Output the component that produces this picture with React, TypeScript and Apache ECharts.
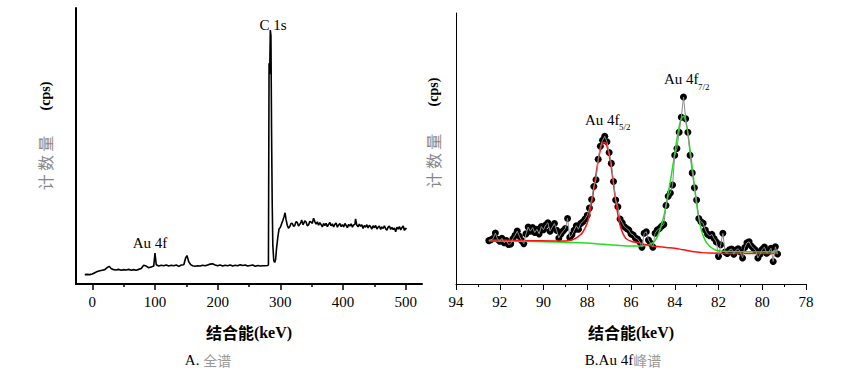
import React, { useEffect, useRef } from 'react';
import * as echarts from 'echarts';

// ---------- Data ----------
// A. survey spectrum: [binding energy, counts (relative)]
const surveySpectrum: [number, number][] = [
  [-12, 3.4], [-8, 3.5], [-4, 3.4], [0, 3.6], [4, 4.1], [8, 4.5], [12, 4.8], [16, 5.0], [20, 5.2],
  [24, 6.0], [27, 6.4], [30, 5.6], [34, 5.2], [38, 5.1], [42, 5.3], [46, 5.0], [50, 5.2], [54, 5.1],
  [58, 5.3], [62, 5.0], [66, 5.2], [70, 5.0], [74, 5.3], [78, 5.6], [82, 6.8], [86, 6.5], [90, 5.9],
  [94, 6.2], [98, 6.5], [100, 11.2], [102, 7.0], [106, 6.5], [110, 6.8], [114, 6.6], [118, 6.9],
  [122, 6.5], [126, 6.8], [130, 6.6], [134, 6.9], [138, 6.4], [142, 6.9], [146, 7.0], [149, 9.5],
  [151, 10.3], [154, 8.0], [157, 7.0], [160, 6.6], [164, 6.4], [168, 6.6], [172, 6.5], [176, 6.8],
  [180, 6.6], [184, 6.9], [188, 7.2], [192, 7.3], [196, 6.9], [200, 6.6], [204, 6.9], [208, 6.5],
  [212, 6.8], [216, 6.6], [220, 6.9], [224, 6.5], [228, 6.8], [232, 6.6], [236, 7.0], [240, 6.7],
  [244, 6.9], [248, 6.5], [252, 6.7], [256, 6.9], [260, 6.4], [264, 6.7], [268, 6.5], [272, 6.6],
  [276, 6.6], [280, 6.7], [281, 7.0], [282, 80], [283, 76], [284, 92], [285, 90], [286, 55],
  [287, 30], [288, 14], [289.5, 8.5], [291, 7.8], [292.5, 9], [294, 13], [296, 17], [298, 20],
  [300, 20.5], [302, 21.8], [304, 23], [306, 24.5], [307.5, 25.8], [309, 23.5],
  [311, 21.3], [313, 20.2], [315, 20.8], [317, 21.9], [319, 22.0], [321, 20.9], [323, 21.2],
  [325, 22.6], [327, 22.3], [329, 21.0], [331, 21.6], [333, 22.4], [334, 23.2], [336, 21.5],
  [337, 21.8], [339, 22.9], [341, 22.5], [343, 21.1], [345, 21.4], [347, 22.7], [349, 22.4],
  [351, 22.0], [353, 23.8], [355, 22.6], [357, 21.7], [359, 22.5], [361, 21.3], [363, 22.2],
  [365, 21.5], [367, 20.7], [369, 21.9], [371, 21.2], [373, 22.0], [375, 20.8], [377, 21.6],
  [379, 22.3], [381, 21.1], [383, 21.8], [385, 20.7], [387, 21.6], [389, 22.1], [391, 20.6],
  [393, 21.4], [395, 21.9], [397, 20.8], [399, 21.5], [401, 20.7], [403, 21.9], [405, 21.2],
  [407, 20.4], [409, 21.6], [411, 21.0], [413, 21.8], [415, 20.6], [417, 21.4], [419, 21.6],
  [420, 23.6], [422, 21.3], [424, 20.7], [426, 21.7], [428, 20.9], [430, 21.5], [432, 20.1],
  [434, 21.2], [436, 20.6], [438, 21.5], [440, 20.3], [442, 21.3], [444, 20.8], [446, 19.9],
  [448, 21.1], [450, 20.4], [452, 21.2], [454, 19.9], [456, 20.6], [458, 21.0], [460, 19.8],
  [462, 20.7], [464, 20.1], [466, 21.1], [468, 20.0], [470, 19.5], [472, 20.6], [474, 21.0],
  [476, 19.8], [478, 20.5], [480, 19.7], [482, 20.3], [484, 18.9], [486, 20.6], [488, 19.9],
  [490, 20.8], [492, 19.6], [494, 20.4], [496, 21.0], [498, 19.4], [500, 20.2], [501, 19.8],
];

// B. Au 4f measured points
const au4fPoints: [number, number][] = [
  [92.5, 16.0], [92.4, 16.3], [92.3, 16.8], [92.2, 18.8], [92.1, 16.5], [92.0, 15.8], [91.9, 16.9],
  [91.8, 15.2], [91.7, 16.0], [91.6, 14.6], [91.5, 14.8], [91.4, 16.7], [91.3, 18.0], [91.2, 19.5],
  [91.1, 17.6], [91.0, 16.0], [90.9, 14.9], [90.8, 18.5], [90.7, 21.0], [90.6, 19.5], [90.5, 20.8],
  [90.4, 19.0], [90.3, 20.2], [90.2, 18.5], [90.1, 21.2], [90.0, 20.0], [89.9, 21.8], [89.8, 22.6],
  [89.7, 19.5], [89.6, 21.0], [89.5, 22.3], [89.4, 19.8], [89.3, 17.0], [89.2, 18.5], [89.1, 19.6],
  [89.0, 20.5], [88.9, 24.2], [88.8, 17.2], [88.7, 18.2], [88.6, 19.8], [88.5, 21.5], [88.4, 20.2],
  [88.3, 22.3], [88.2, 23.0], [88.1, 24.0], [88.0, 25.4], [87.9, 28.0], [87.8, 31.2], [87.7, 36.0],
  [87.6, 38.5], [87.5, 46.0], [87.4, 50.8], [87.3, 53.0], [87.2, 54.5], [87.1, 52.5], [87.0, 48.5],
  [86.9, 44.5], [86.8, 37.8], [86.7, 31.0], [86.6, 28.5], [86.5, 24.0], [86.4, 22.6], [86.3, 21.1],
  [86.2, 20.5], [86.1, 19.9], [86.0, 18.5], [85.9, 18.1], [85.8, 17.0], [85.7, 16.6], [85.6, 15.5],
  [85.5, 13.6], [85.4, 18.7], [85.3, 19.3], [85.2, 16.2], [85.1, 15.0], [85.0, 13.6], [84.9, 18.7],
  [84.8, 19.9], [84.7, 20.5], [84.6, 21.3], [84.5, 22.0], [84.4, 29.0], [84.3, 32.4], [84.2, 33.6],
  [84.1, 36.5], [84.0, 47.5], [83.9, 50.0], [83.8, 56.0], [83.7, 61.5], [83.6, 69.0], [83.5, 61.0],
  [83.4, 56.0], [83.3, 47.5], [83.2, 41.0], [83.1, 35.5], [83.0, 31.0], [82.9, 24.2], [82.8, 23.0],
  [82.7, 22.4], [82.6, 19.9], [82.5, 18.4], [82.4, 17.8], [82.3, 18.3], [82.2, 16.8], [82.1, 15.5],
  [82.0, 10.2], [81.9, 14.5], [81.8, 18.7], [81.7, 11.8], [81.6, 11.3], [81.5, 12.6], [81.4, 12.9],
  [81.3, 11.0], [81.2, 12.5], [81.1, 13.0], [81.0, 11.8], [80.9, 9.6], [80.8, 13.5], [80.7, 15.2],
  [80.6, 15.6], [80.5, 14.0], [80.4, 13.2], [80.3, 12.4], [80.2, 9.6], [80.1, 11.0], [80.0, 12.8],
  [79.9, 13.6], [79.8, 11.4], [79.7, 12.0], [79.6, 13.2], [79.5, 8.3], [79.4, 13.7], [79.3, 11.1],
];

// fitted Au 4f5/2 component (red) with background
const fit52: [number, number][] = [
  [92.5, 16.2], [91.5, 16.1], [90.5, 16.0], [89.5, 15.9], [89.0, 15.9], [88.8, 16.1], [88.6, 16.6],
  [88.4, 17.6], [88.2, 19.2], [88.0, 22.5], [87.9, 25.8], [87.8, 29.8], [87.7, 35.0], [87.6, 40.5],
  [87.5, 45.5], [87.4, 49.4], [87.3, 51.8], [87.2, 52.2], [87.1, 50.8], [87.0, 47.6], [86.9, 42.8],
  [86.8, 36.8], [86.7, 30.8], [86.6, 25.6], [86.5, 21.8], [86.4, 19.2], [86.3, 17.6], [86.2, 16.6],
  [86.0, 15.8], [85.6, 15.1], [85.2, 14.3], [84.8, 13.8], [84.4, 13.5], [84.0, 13.2], [83.6, 12.6],
  [83.2, 12.0], [82.8, 11.6], [82.4, 11.4], [81.5, 11.3], [80.5, 11.3], [79.3, 11.3],
];

// fitted Au 4f7/2 component (green) with background
const fit72: [number, number][] = [
  [92.5, 16.0], [91.5, 15.8], [90.5, 15.7], [89.5, 15.5], [88.5, 15.3], [88.0, 15.1], [87.5, 14.8],
  [87.0, 14.5], [86.5, 14.2], [86.0, 14.0], [85.6, 14.0], [85.3, 14.3], [85.1, 14.8], [84.9, 16.0],
  [84.7, 19.5], [84.5, 25.0], [84.4, 29.0], [84.3, 33.5], [84.2, 38.0], [84.1, 43.0], [84.0, 48.0],
  [83.9, 53.5], [83.8, 58.0], [83.7, 61.0], [83.6, 61.9], [83.5, 60.0], [83.4, 55.5], [83.3, 49.5],
  [83.2, 43.0], [83.1, 36.0], [83.0, 29.5], [82.9, 24.5], [82.8, 20.5], [82.7, 17.8], [82.6, 16.0],
  [82.5, 14.8], [82.4, 13.9], [82.2, 12.8], [82.0, 12.3], [81.5, 12.0], [80.5, 11.9], [79.3, 11.8],
];

const surveyMajorTicks = [0, 100, 200, 300, 400, 500];
const surveyMinorTicks = [50, 150, 250, 350, 450];
const au4fMajorTicks = [94, 92, 90, 88, 86, 84, 82, 80, 78];
const au4fMinorTicks = [93, 91, 89, 87, 85, 83, 81, 79];

const LATIN = 'Liberation Serif';
const CJK = 'Noto Sans CJK SC';

export default function App() {
  const ref = useRef<HTMLDivElement>(null);

  useEffect(() => {
    document.body.style.margin = '0';
    const chart = echarts.init(ref.current!, null, { renderer: 'svg' });

    const tickLabel = (values: number[]) => ({
      color: '#000', fontFamily: LATIN, fontSize: 15, margin: 10, customValues: values,
      formatter: '{t|{value}}',
      rich: { t: { fontFamily: LATIN, fontSize: 15, color: '#000' } },
    });
    const axisTitle = {
      text: '{c|结合能}{l|(keV)}', align: 'center', verticalAlign: 'middle',
      rich: {
        c: { fontFamily: CJK, fontSize: 16, fontWeight: 'bold', fill: '#000', color: '#000' },
        l: { fontFamily: LATIN, fontSize: 16, fontWeight: 'bold', fill: '#000', color: '#000' },
      },
    };

    chart.setOption({
      animation: false,
      backgroundColor: '#fff',
      textStyle: { fontFamily: LATIN },
      grid: [
        { left: 76, top: 8, width: 346, height: 276 },
        { left: 456, top: 13, width: 350, height: 271 },
      ],
      xAxis: [
        {
          gridIndex: 0, type: 'value', min: -26, max: 526,
          axisLine: { show: true, onZero: false, lineStyle: { color: '#000', width: 2 } },
          axisTick: { show: true, length: 6, customValues: surveyMajorTicks, lineStyle: { color: '#000', width: 1.5 } },
          axisLabel: tickLabel(surveyMajorTicks),
          splitLine: { show: false },
        },
        {
          gridIndex: 0, type: 'value', min: -26, max: 526, position: 'bottom',
          axisLine: { show: false },
          axisTick: { show: true, length: 3, customValues: surveyMinorTicks, lineStyle: { color: '#000', width: 1.5 } },
          axisLabel: { show: false },
          splitLine: { show: false },
        },
        {
          gridIndex: 1, type: 'value', min: 78, max: 94, inverse: true,
          axisLine: { show: true, onZero: false, lineStyle: { color: '#000', width: 1 } },
          axisTick: { show: true, length: 6, customValues: au4fMajorTicks, lineStyle: { color: '#000', width: 1 } },
          axisLabel: tickLabel(au4fMajorTicks),
          splitLine: { show: false },
        },
        {
          gridIndex: 1, type: 'value', min: 78, max: 94, inverse: true, position: 'bottom',
          axisLine: { show: false },
          axisTick: { show: true, length: 3, customValues: au4fMinorTicks, lineStyle: { color: '#000', width: 1 } },
          axisLabel: { show: false },
          splitLine: { show: false },
        },
      ],
      yAxis: [
        {
          gridIndex: 0, type: 'value', min: 0, max: 100,
          axisLine: { show: true, onZero: false, lineStyle: { color: '#000', width: 2 } },
          axisTick: { show: false }, axisLabel: { show: false }, splitLine: { show: false },
        },
        {
          gridIndex: 1, type: 'value', min: 0, max: 100,
          axisLine: { show: true, onZero: false, lineStyle: { color: '#000', width: 1 } },
          axisTick: { show: false }, axisLabel: { show: false }, splitLine: { show: false },
        },
      ],
      series: [
        {
          type: 'line', xAxisIndex: 0, yAxisIndex: 0, data: surveySpectrum,
          showSymbol: false, symbol: 'none',
          lineStyle: { color: '#000', width: 1.6 }, z: 2,
        },
        {
          type: 'scatter', xAxisIndex: 2, yAxisIndex: 1, data: au4fPoints,
          symbol: 'circle', symbolSize: 7, itemStyle: { color: '#000', opacity: 1 }, z: 1,
        },
        {
          type: 'line', xAxisIndex: 2, yAxisIndex: 1, data: fit72, smooth: true,
          symbol: 'none', lineStyle: { color: '#1fe01f', width: 1.5 }, z: 2,
        },
        {
          type: 'line', xAxisIndex: 2, yAxisIndex: 1, data: fit52, smooth: true,
          symbol: 'none', lineStyle: { color: '#ff1010', width: 1.5 }, z: 3,
        },
        {
          type: 'line', xAxisIndex: 2, yAxisIndex: 1, data: au4fPoints,
          symbol: 'none', lineStyle: { color: '#8c8c8c', width: 1 }, z: 4,
        },
      ],
      graphic: [
        // y axis titles
        { type: 'text', x: 45, y: 96, rotation: Math.PI / 2,
          style: { text: '(cps)', fontFamily: LATIN, fontSize: 14, fontWeight: 'bold', fill: '#000', align: 'center', verticalAlign: 'middle' } },
        { type: 'text', x: 45, y: 163, rotation: Math.PI / 2,
          style: { text: '计\u2009数\u2009量', fontFamily: CJK, fontSize: 16, fill: '#888', align: 'center', verticalAlign: 'middle' } },
        { type: 'text', x: 433, y: 92, rotation: Math.PI / 2,
          style: { text: '(cps)', fontFamily: LATIN, fontSize: 14, fontWeight: 'bold', fill: '#000', align: 'center', verticalAlign: 'middle' } },
        { type: 'text', x: 433, y: 161, rotation: Math.PI / 2,
          style: { text: '计\u2009数\u2009量', fontFamily: CJK, fontSize: 16, fill: '#888', align: 'center', verticalAlign: 'middle' } },
        // x axis titles
        { type: 'text', x: 249, y: 332, style: axisTitle },
        { type: 'text', x: 631, y: 332, style: axisTitle },
        // subtitles
        { type: 'text', x: 208, y: 360,
          style: { text: '{a|A. }{b|全谱}', align: 'center', verticalAlign: 'middle',
            rich: { a: { fontFamily: LATIN, fontSize: 15, fill: '#000', color: '#000' }, b: { fontFamily: CJK, fontSize: 14, fill: '#999', color: '#999' } } } },
        { type: 'text', x: 623, y: 360,
          style: { text: '{a|B.Au 4f}{b|峰谱}', align: 'center', verticalAlign: 'middle',
            rich: { a: { fontFamily: LATIN, fontSize: 15, fill: '#000', color: '#000' }, b: { fontFamily: CJK, fontSize: 14, fill: '#999', color: '#999' } } } },
        // peak annotations
        { type: 'text', x: 273, y: 25,
          style: { text: 'C 1s', fontFamily: LATIN, fontSize: 15, fill: '#000', align: 'center', verticalAlign: 'middle' } },
        { type: 'text', x: 150, y: 243,
          style: { text: 'Au 4f', fontFamily: LATIN, fontSize: 15, fill: '#000', align: 'center', verticalAlign: 'middle' } },
        { type: 'text', x: 585, y: 120,
          style: { text: 'Au 4f', fontFamily: LATIN, fontSize: 15, fill: '#000', align: 'left', verticalAlign: 'middle' } },
        { type: 'text', x: 619, y: 127,
          style: { text: '5/2', fontFamily: LATIN, fontSize: 9, fill: '#000', align: 'left', verticalAlign: 'middle' } },
        { type: 'text', x: 664, y: 79,
          style: { text: 'Au 4f', fontFamily: LATIN, fontSize: 15, fill: '#000', align: 'left', verticalAlign: 'middle' } },
        { type: 'text', x: 698, y: 87,
          style: { text: '7/2', fontFamily: LATIN, fontSize: 9, fill: '#000', align: 'left', verticalAlign: 'middle' } },
      ],
    });

    return () => chart.dispose();
  }, []);

  return <div ref={ref} style={{ width: 842, height: 371 }} />;
}
